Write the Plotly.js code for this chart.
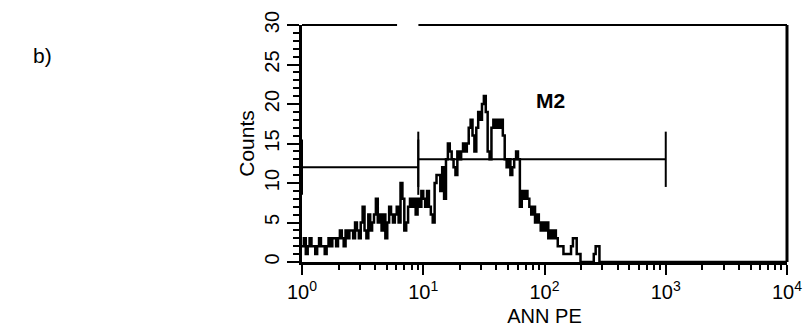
<!DOCTYPE html>
<html>
<head>
<meta charset="utf-8">
<script src="https://cdn.plot.ly/plotly-3.0.1.min.js"></script>
<style>
  html, body { margin: 0; padding: 0; background: #fff; }
  #chart { width: 803px; height: 329px; }
</style>
</head>
<body>
<div id="chart"></div>
<script>
// ANN PE fluorescence histogram, 256 log channels over 4 decades (64 per decade)
const channelsPerDecade = 64;
const totalChannels = 256;

// Event counts per channel, channel 0 upward
const counts = [
  2, 3, 1, 2, 3, 2, 2, 1,
  2, 3, 2, 2, 1, 2, 3, 2,
  3, 3, 2, 3, 4, 3, 2, 4,
  3, 4, 4, 3, 5, 4, 3, 5,
  7, 4, 3, 6, 4, 5, 6, 8,
  5, 6, 4, 6, 3, 5, 7, 6,
  5, 6, 7, 5, 10, 8, 4, 5,
  7, 8, 7, 8, 6, 8, 7, 9,
  8, 7, 9, 7, 6, 5, 10, 11,
  11, 9, 12, 8, 13, 15, 14, 13,
  12, 11, 14, 13, 14, 15, 14, 15,
  17, 18, 16, 14, 17, 19, 18, 20,
  21, 19, 14, 13, 17, 18, 17, 18,
  17, 18, 16, 13, 12, 13, 11, 12,
  13, 14, 13, 7, 9, 8, 9, 8,
  7, 6, 7, 5, 6, 5, 4, 5,
  4, 5, 3, 4, 3, 4, 3, 2,
  2, 2, 1, 1, 1, 1, 2, 3,
  3, 1, 1, 0, 0, 0, 0, 0,
  0, 0, 1, 2, 2, 0, 0, 0
];

// Gate markers: [low edge, high edge, bar level]
const markerM1 = [1, 9.1, 12];
const markerM2 = [9.1, 1000, 13];
const markerLabel = 'M2';
const markerLabelPos = [112, 20.5];

// Axis ticks
const xTickVals = [1, 10, 100, 1000, 10000];
const xTickText = ['10<sup>0</sup>', '10<sup>1</sup>', '10<sup>2</sup>', '10<sup>3</sup>', '10<sup>4</sup>'];
const yTickVals = [0, 5, 10, 15, 20, 25, 30];

// Channel index -> linear fluorescence value on the log axis
const xs = [], ys = [];
for (let i = 0; i < totalChannels; i++) {
  xs.push(Math.pow(10, i / channelsPerDecade));
  ys.push(i < counts.length ? counts[i] : 0);
}
xs.push(10000); ys.push(0);

const FONT = 'Liberation Sans, Arial, Helvetica, sans-serif';
const tickHalf = 3.5;

function gateTrace(m) {
  const [lo, hi, lvl] = m;
  return {
    type: 'scatter', mode: 'lines', hoverinfo: 'skip', showlegend: false,
    x: [lo, lo, null, lo, hi, null, hi, hi],
    y: [lvl - tickHalf, lvl + tickHalf, null, lvl, lvl, null, lvl - tickHalf, lvl + tickHalf],
    line: { color: '#000', width: 2 }
  };
}

const traces = [
  {
    type: 'scatter', mode: 'lines', x: xs, y: ys,
    line: { color: '#000', width: 2.5, shape: 'hv' },
    hoverinfo: 'skip', showlegend: false, cliponaxis: false
  },
  gateTrace(markerM1),
  gateTrace(markerM2)
];

const layout = {
  width: 803, height: 329,
  margin: { l: 302, r: 16, t: 25, b: 67, pad: 0 },
  paper_bgcolor: '#fff', plot_bgcolor: '#fff',
  font: { family: FONT, color: '#000', size: 20 },
  xaxis: {
    type: 'log', range: [0, 4], fixedrange: true,
    showgrid: false, zeroline: false,
    showline: true, linecolor: '#000', linewidth: 3,
    ticks: 'outside', ticklen: 10, tickwidth: 2, tickcolor: '#000',
    tickvals: xTickVals, ticktext: xTickText,
    tickfont: { family: FONT, size: 20, color: '#000' },
    minor: { ticks: 'outside', ticklen: 5, tickwidth: 2, tickcolor: '#000', dtick: 'D1', showgrid: false },
    title: { text: 'ANN PE', font: { family: FONT, size: 20, color: '#000' }, standoff: 7 },
    automargin: false
  },
  yaxis: {
    range: [0, 30], fixedrange: true,
    showgrid: false, zeroline: false,
    showline: true, linecolor: '#000', linewidth: 3,
    ticks: 'outside', ticklen: 12, tickwidth: 2, tickcolor: '#000',
    tickvals: yTickVals, tickangle: -90,
    tickfont: { family: FONT, size: 20, color: '#000' },
    minor: { ticks: 'outside', ticklen: 6, tickwidth: 2, tickcolor: '#000', dtick: 1, showgrid: false },
    title: { text: 'Counts', font: { family: FONT, size: 21, color: '#000' }, standoff: 1 },
    automargin: false
  },
  shapes: [
    // frame: top edge (broken) and right edge
    { type: 'line', xref: 'paper', yref: 'paper', x0: 0, x1: 0.196, y0: 1, y1: 1, line: { color: '#000', width: 2 } },
    { type: 'line', xref: 'paper', yref: 'paper', x0: 0.24, x1: 1, y0: 1, y1: 1, line: { color: '#000', width: 2 } },
    { type: 'line', xref: 'paper', yref: 'paper', x0: 1, x1: 1, y0: 0, y1: 1, line: { color: '#000', width: 3 } }
  ],
  annotations: [
    { x: Math.log10(markerLabelPos[0]), y: markerLabelPos[1], xref: 'x', yref: 'y',
      text: '<b>' + markerLabel + '</b>', showarrow: false, font: { family: FONT, size: 21, color: '#000' } },
    { x: (42 - 302) / 485, y: (262 - 56) / 237, xref: 'paper', yref: 'paper', text: 'b)', showarrow: false,
      xanchor: 'center', yanchor: 'middle', font: { family: FONT, size: 21, color: '#000' } }
  ]
};

Plotly.newPlot('chart', traces, layout, { staticPlot: true, displayModeBar: false });
</script>
</body>
</html>
